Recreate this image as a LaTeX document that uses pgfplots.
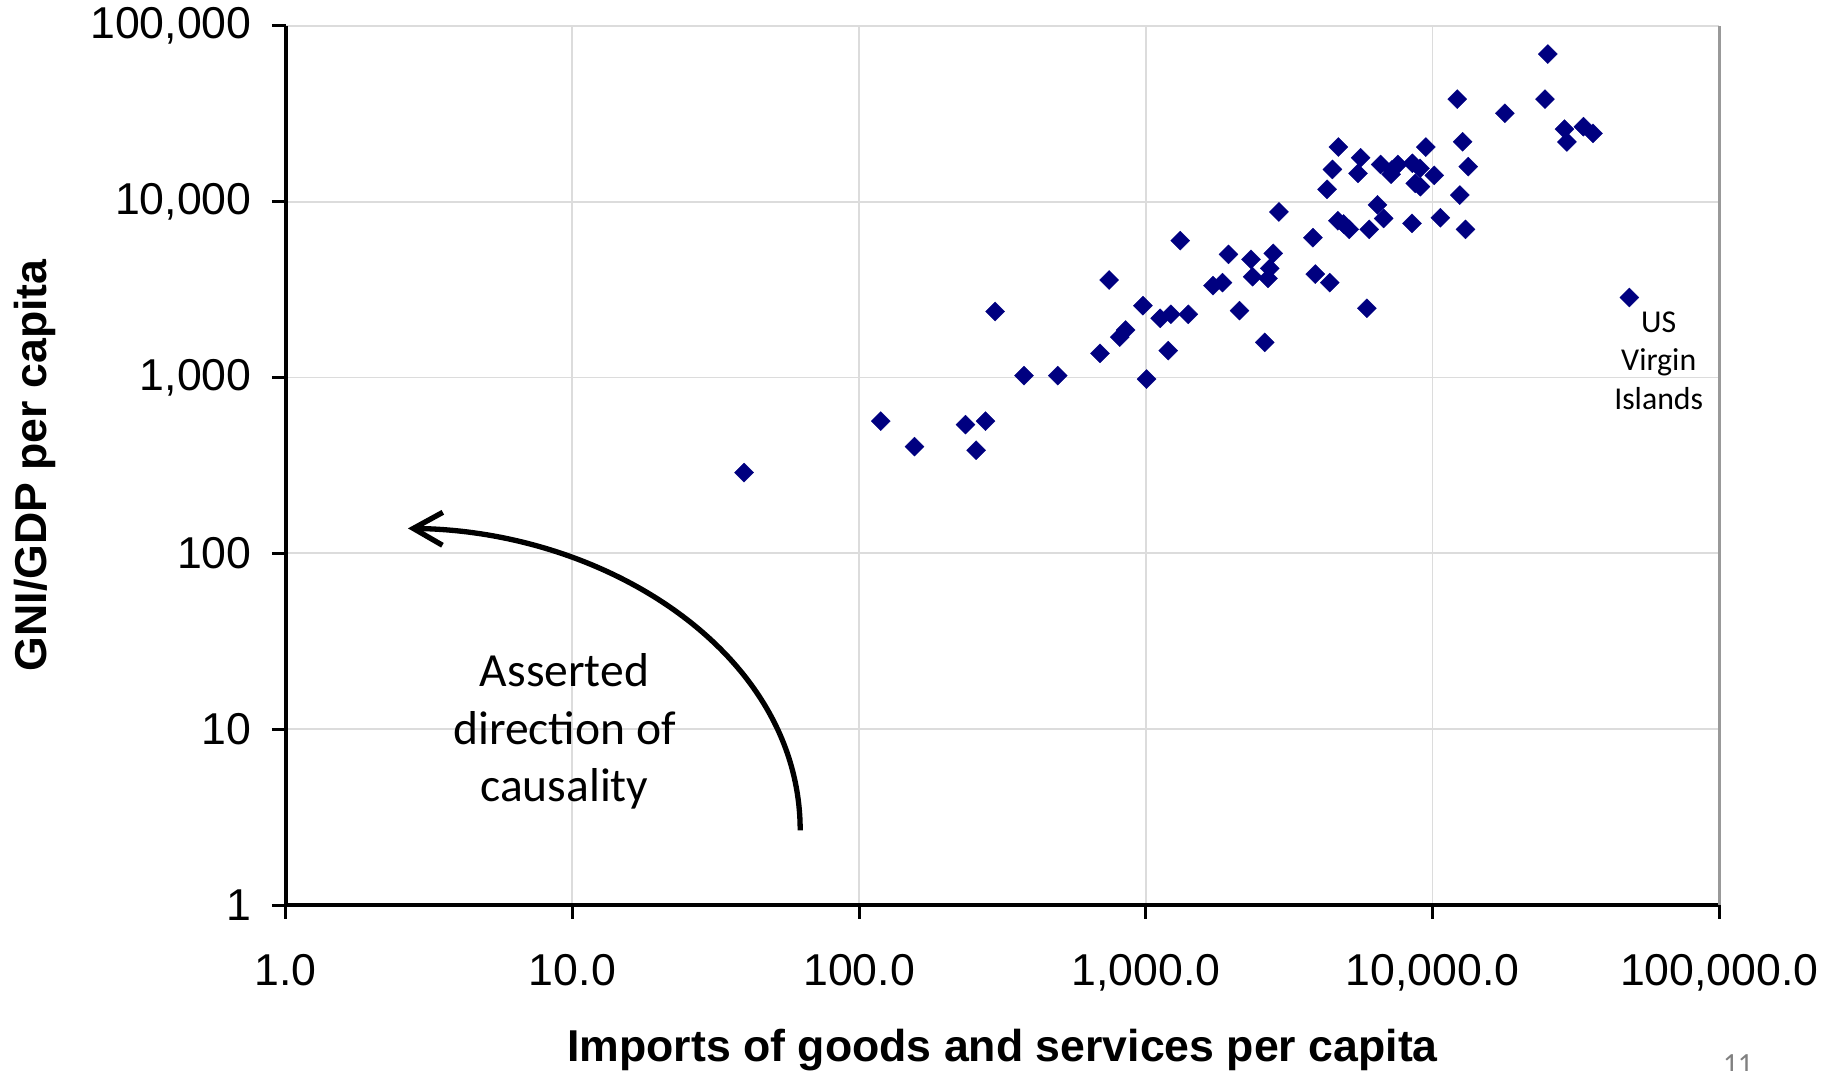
\documentclass[border=0pt]{standalone}
\usepackage{fontspec}
\setmainfont{Liberation Sans}
\newfontfamily\calibri{Carlito}
\usepackage{pgfplots}
\pgfplotsset{compat=1.18}
\usetikzlibrary{arrows.meta}
\definecolor{navy}{RGB}{0,0,128}
\definecolor{gridc}{RGB}{220,220,220}
\begin{document}
\begin{tikzpicture}
\useasboundingbox (-78.1pt,-45.3pt) rectangle (421.9pt,247.43pt);
\begin{axis}[
  at={(0,0)}, anchor=south west,
  scale only axis, width=391.9pt, height=240.4pt,
  xmode=log, ymode=log,
  xmin=1, xmax=100000, ymin=1, ymax=100000,
  axis lines=left,
  axis line style={-, black, line width=1pt},
  xminorticks=false, yminorticks=false,
  grid=major,
  major grid style={gridc, line width=0.5pt},
  tick align=outside,
  major tick length=3.8pt,
  tick style={black, line width=0.8pt},
  xtick={1,10,100,1000,10000,100000},
  xticklabels={1.0,10.0,100.0,{1,000.0},{10,000.0},{100,000.0}},
  ytick={1,10,100,1000,10000,100000},
  yticklabels={1,10,100,{1,000},{10,000},{100,000}},
  tick label style={font=\fontsize{12.2}{14}\selectfont},
  xticklabel style={yshift=-6pt},
  yticklabel style={xshift=-2pt},
  xlabel={Imports of goods and services per capita},
  ylabel={GNI/GDP per capita},
  label style={font=\bfseries\fontsize{12.2}{14}\selectfont},
  xlabel style={at={(axis description cs:0.5,-0.165)}, anchor=center},
  ylabel style={at={(axis description cs:-0.175,0.5)}, anchor=center},
  clip=false,
]
\addplot[only marks, mark=square*, mark size=1.84pt,
  mark options={rotate=45, fill=navy, draw=navy, line width=0.1pt}]
coordinates {
(39.7,288) (119,565) (156,404) (235,540) (256,386) (276,565)
(298,2372) (376,1025) (493,1025) (692,1370) (745,3584) (811,1696)
(850,1860) (977,2560) (1006,979) (1122,2169) (1223,2287) (1197,1421)
(1318,5997) (1406,2287) (1715,3325) (1852,3461) (1942,5014) (2123,2399)
(2327,4697) (2357,3741) (2600,1584) (2667,3661) (2705,4177) (2782,5078)
(2913,8730) (3826,6237) (3899,3875) (4287,11740) (4381,3461) (4475,15240)
(4693,20430) (4673,7785) (4897,7460) (5123,6950) (5497,14470) (5613,17750)
(5902,2473) (6013,6950) (6427,9570) (6590,16270) (6755,8020) (7210,15130)
(7570,16270) (7170,14320) (8505,16510) (9040,15450) (10140,14100) (8700,12690)
(9070,12160) (8480,7515) (9470,20430) (10650,8095) (12190,38280) (12450,10890)
(12730,21880) (13030,6950) (13320,15790) (17880,31770) (24660,38280) (25240,69000)
(28840,25840) (29430,21830) (33600,26660) (36300,24430) (48600,2850)
};
\draw[gray!80, line width=0.8pt] (rel axis cs:1,0) -- (rel axis cs:1,1);
\draw[black, line width=1.45pt, -{Straight Barb[length=8pt,width=9pt]}]
  (axis cs:62.3,2.66) .. controls (axis cs:62.3,27.1) and (axis cs:13.1,134.5) .. (axis cs:2.67,138.7);
\node[font=\calibri\fontsize{13}{15.8}\selectfont, align=center] at (axis cs:9.38,9.73)
  {Asserted\\direction of\\causality};
\node[font=\calibri\fontsize{8.7}{10.5}\selectfont, align=center] at (axis cs:61500,1250)
  {US\\Virgin\\Islands};
\end{axis}
\node[anchor=north, inner sep=0pt, text=gray, font=\calibri\fontsize{8}{9}\selectfont] at (397pt,-40.6pt) {11};
\end{tikzpicture}
\end{document}
